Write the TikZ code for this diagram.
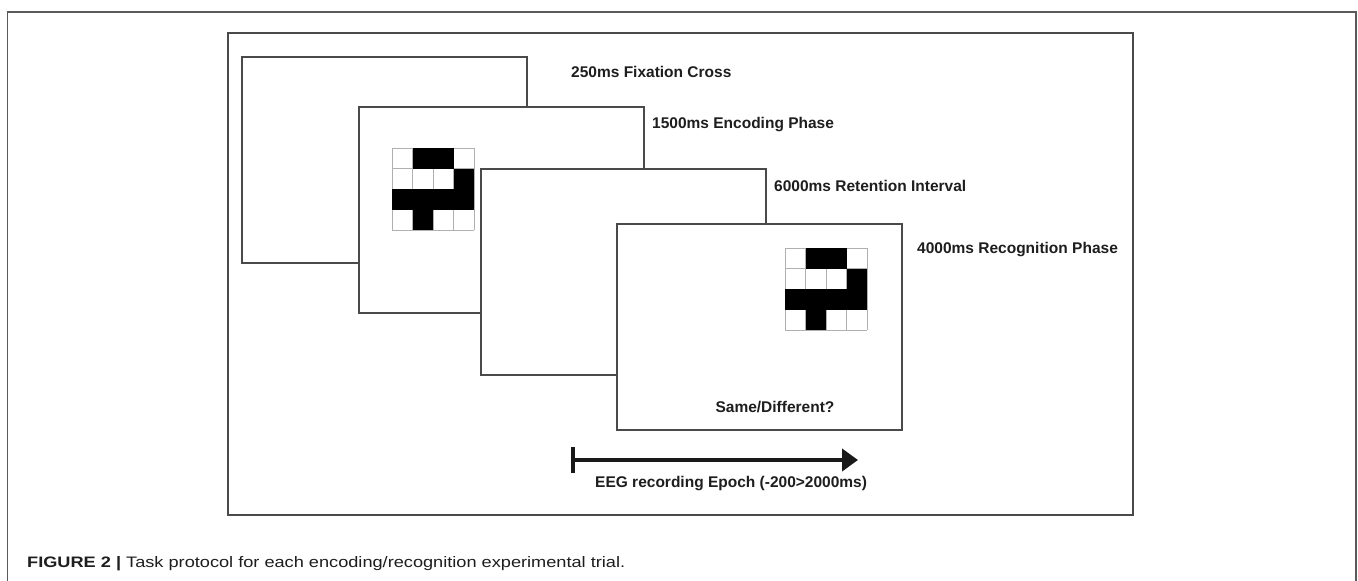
\documentclass[tikz,border=0pt]{standalone}
\usepackage{fontspec}
\setmainfont{Liberation Sans}
\usetikzlibrary{arrows.meta}
\definecolor{framegray}{HTML}{4A4A4A}
\definecolor{outergray}{HTML}{5A5A5A}
\definecolor{cellgray}{HTML}{B0B0B0}
\definecolor{txt}{HTML}{1E1E1E}
\newcommand{\patgrid}[2]{%
  \begin{scope}[shift={(#1,#2)}]
    \foreach \i in {0,...,4} {
      \draw[cellline] (\i*20.5,0) -- (\i*20.5,82);
      \draw[cellline] (0,\i*20.5) -- (82,\i*20.5);
    }
    \fill[black] (20.5,0) rectangle (61.5,20.5);
    \fill[black] (61.5,20.5) rectangle (82,41);
    \fill[black] (0,41) rectangle (82,61.5);
    \fill[black] (20.5,61.5) rectangle (41,82);
  \end{scope}}
\begin{document}
\begin{tikzpicture}[x=1pt,y=-1pt,
  screen/.style={draw=framegray, line width=1.8pt, fill=white, inner sep=0pt,
    minimum width=285pt, minimum height=206pt, anchor=north west},
  lbl/.style={font=\bfseries\fontsize{15.5}{18}\selectfont, text=txt, inner sep=0pt, anchor=west},
  cellline/.style={draw=cellgray, line width=1pt},
]
\useasboundingbox[fill=white] (0,0) rectangle (1358,581);
% outer frame (bottom edge lies below the page)
\draw[outergray, line width=1.2pt] (7.5,581) -- (7.5,12) -- (1356,12) -- (1356,581);
% inner frame
\node[draw=framegray, line width=1.6pt, inner sep=0pt, minimum width=905pt,
  minimum height=482pt, anchor=north west] (frame) at (227,32) {};
% screens
\node[screen] (s1) at (241,56) {};
\node[screen] (s2) at (358,106) {};
\patgrid{392}{148}
\node[screen] (s3) at (480,168) {};
\node[screen] (s4) at (616,223) {};
\patgrid{785}{248}
% labels
\node[lbl] (l1) at (571,72) {250ms Fixation Cross};
\node[lbl] (l2) at (652,125) {1500ms Encoding Phase};
\node[lbl] (l3) at (774,186) {6000ms Retention Interval};
\node[lbl] (l4) at (917,250) {4000ms Recognition Phase};
\node[lbl, anchor=center] (q) at (775,407) {Same/Different?};
% epoch arrow
\coordinate (ea) at (571,460);
\coordinate (eb) at (858,460);
\draw[line width=4pt, black!90, {Bar[width=26pt]}-{Triangle[length=16pt,width=22pt]}] (ea) -- (eb);
\node[lbl] (eeg) at (595,484) {EEG recording Epoch (-200>2000ms)};
% caption
\node[anchor=base west, inner sep=0pt, text=txt] (cap) at (27,567)
  {\resizebox{598pt}{11pt}{\textbf{FIGURE 2 |} Task protocol for each encoding/recognition experimental trial.}};
\end{tikzpicture}
\end{document}
